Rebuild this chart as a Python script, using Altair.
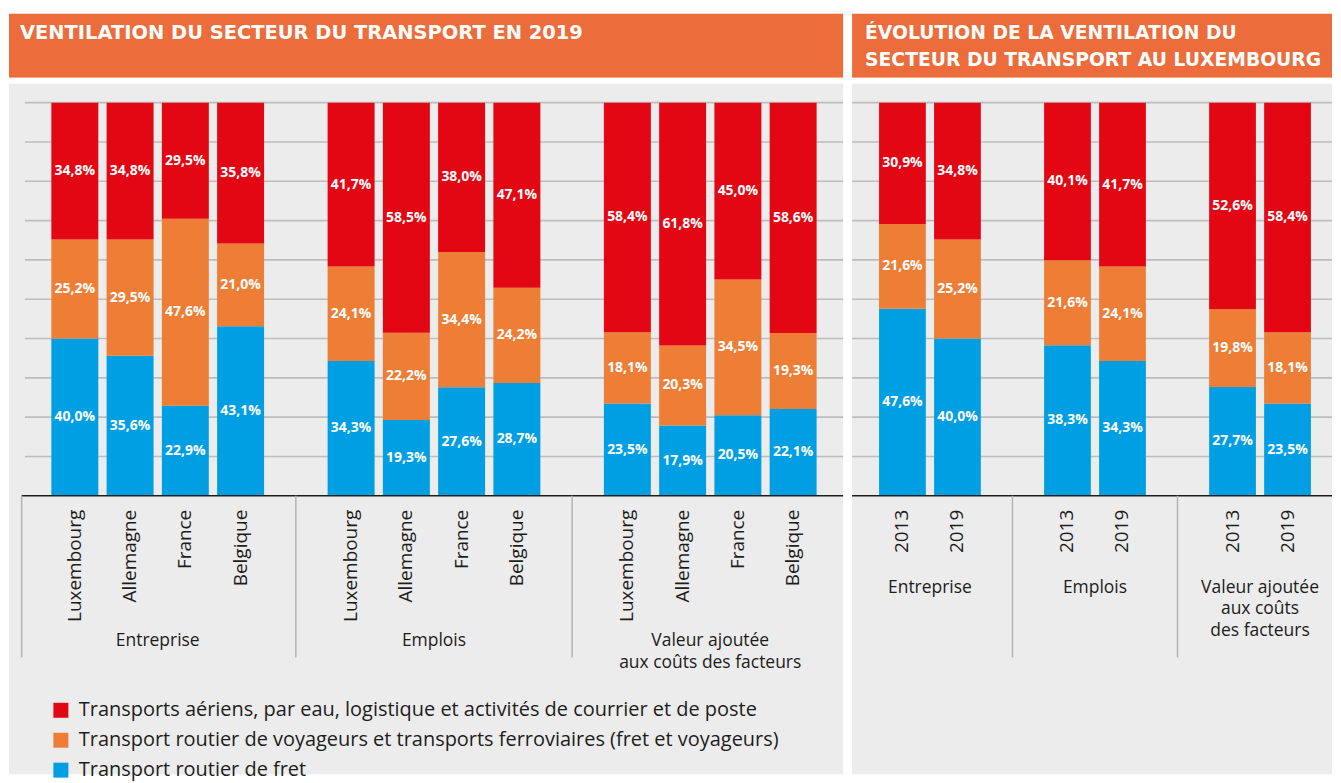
import altair as alt
import pandas as pd

# ---------------- data ----------------
groups = ["Entreprise", "Emplois", "Valeur ajoutée"]
left_group_labels = ["Entreprise", "Emplois", "Valeur ajoutée\naux coûts des facteurs"]
right_group_labels = ["Entreprise", "Emplois", "Valeur ajoutée\naux coûts\ndes facteurs"]
countries = ["Luxembourg", "Allemagne", "France", "Belgique"]
years = ["2013", "2019"]
series = [
    "Transports aériens, par eau, logistique et activités de courrier et de poste",
    "Transport routier de voyageurs et transports ferroviaires (fret et voyageurs)",
    "Transport routier de fret",
]
series_colors = ["#e30613", "#ee7d35", "#009fe3"]

# left panel: 3 groups x 4 countries
left_fret = [40.0, 35.6, 22.9, 43.1, 34.3, 19.3, 27.6, 28.7, 23.5, 17.9, 20.5, 22.1]
left_voy = [25.2, 29.5, 47.6, 21.0, 24.1, 22.2, 34.4, 24.2, 18.1, 20.3, 34.5, 19.3]
left_air = [34.8, 34.8, 29.5, 35.8, 41.7, 58.5, 38.0, 47.1, 58.4, 61.8, 45.0, 58.6]

# right panel: 3 groups x 2 years
right_fret = [47.6, 40.0, 38.3, 34.3, 27.7, 23.5]
right_voy = [21.6, 25.2, 21.6, 24.1, 19.8, 18.1]
right_air = [30.9, 34.8, 40.1, 41.7, 52.6, 58.4]

grid_values = [10, 20, 30, 40, 50, 60, 70, 80, 90, 100]

left_title = ["VENTILATION DU SECTEUR DU TRANSPORT EN 2019"]
right_title = ["ÉVOLUTION DE LA VENTILATION DU", "SECTEUR DU TRANSPORT AU LUXEMBOURG"]

# ---------------- style ----------------
HEADER = "#ec6c3b"
GREY = "#ececec"
TEXT = "#1d1d1b"
VIEW_H = 762

color_scale = alt.Scale(domain=series, range=series_colors)
legend = alt.Legend(
    orient="none", legendX=42, legendY=688, title=None, direction="vertical",
    symbolType="square", symbolSize=225, symbolStrokeWidth=0,
    labelFont="Open Sans", labelFontSize=20, labelColor=TEXT,
    labelOffset=8, rowPadding=10, labelLimit=1000,
)
one = pd.DataFrame({"a": [0]})


def panel(cats, fret, voy, air, group_labels, width, x_range, title_lines,
          title_x, title_size, grid_x0, axis_x0, edge_sep, group_y):
    rows, domain, ticks, anchors, gaps = [], [], [], [], []
    i = 0
    for gi, g in enumerate(groups):
        for c in cats:
            key = f"{g}|{c}"
            domain.append(key)
            ticks.append({"key": key, "label": c})
            rows.append({"key": key, "series": series[2], "order": 0, "value": fret[i]})
            rows.append({"key": key, "series": series[1], "order": 1, "value": voy[i]})
            rows.append({"key": key, "series": series[0], "order": 2, "value": air[i]})
            i += 1
        anchors.append({"anchor": f"{g}|{cats[len(cats) // 2 - 1]}", "label": group_labels[gi]})
        if gi < len(groups) - 1:
            gap = f"gap{gi}"
            domain.append(gap)
            gaps.append({"key": gap})
    df = pd.DataFrame(rows)

    xs = alt.Scale(type="band", domain=domain, range=x_range, paddingInner=0, paddingOuter=0)
    ys = alt.Scale(domain=[0, 100], range=[483, 89], nice=False, zero=False)

    header = alt.Chart(one).mark_rect(color=HEADER).encode(
        x=alt.value(0), x2=alt.value(width), y=alt.value(0), y2=alt.value(64))
    strip = alt.Chart(one).mark_rect(color="white").encode(
        x=alt.value(0), x2=alt.value(width), y=alt.value(64), y2=alt.value(70))
    title = alt.Chart(one).mark_text(
        text=title_lines, font="DejaVu Sans", fontWeight="bold", fontSize=title_size,
        color="white", align="left", baseline="top", lineHeight=26.5, clip=True,
    ).encode(x=alt.value(title_x), y=alt.value(10.5))

    grid = alt.Chart(pd.DataFrame({"v": grid_values})).mark_rule(
        color="#bdbdbd", strokeWidth=1.6).encode(
        y=alt.Y("v:Q", scale=ys, axis=None), x=alt.value(grid_x0), x2=alt.value(width))

    base = alt.Chart(df).transform_stack(
        stack="value", groupby=["key"], as_=["s0", "s1"], offset="normalize",
        sort=[alt.SortField("order", "ascending")],
    ).transform_calculate(
        y0="datum.s0 * 100", y1="datum.s1 * 100",
        mid="(datum.s0 + datum.s1) * 50",
        lbl="replace(format(datum.value, '.1f'), '.', ',') + '%'",
    )
    bars = base.mark_bar(width=alt.RelativeBandSize(0.85)).encode(
        x=alt.X("key:N", scale=xs, axis=None),
        y=alt.Y("y0:Q", scale=ys, axis=None), y2="y1:Q",
        color=alt.Color("series:N", scale=color_scale, legend=legend, sort=series),
    )
    labels = base.mark_text(
        font="Open Sans", fontWeight="bold", fontSize=14, color="white",
        baseline="middle", align="center",
    ).encode(x=alt.X("key:N", scale=xs, axis=None),
             y=alt.Y("mid:Q", scale=ys, axis=None), text="lbl:N")

    axis_line = alt.Chart(one).mark_rule(color="#1d1d1b", strokeWidth=1.6).encode(
        y=alt.YDatum(0, scale=ys), x=alt.value(axis_x0), x2=alt.value(width))

    tick_labels = alt.Chart(pd.DataFrame(ticks)).mark_text(
        angle=270, align="right", baseline="middle", font="Open Sans",
        fontSize=19, color=TEXT,
    ).encode(x=alt.X("key:N", scale=xs, axis=None), y=alt.value(497), text="label:N")

    seps = alt.Chart(pd.DataFrame(gaps)).mark_rule(color="#b3b3b3", strokeWidth=1.5).encode(
        x=alt.X("key:N", scale=xs, axis=None), y=alt.value(483), y2=alt.value(645))

    glabels = alt.Chart(pd.DataFrame(anchors)).transform_calculate(
        lines="split(datum.label, '\\n')"
    ).mark_text(
        align="center", baseline="top", font="Open Sans", fontSize=17.5,
        color=TEXT, lineHeight=22,
    ).encode(x=alt.X("anchor:N", scale=xs, axis=None, bandPosition=1),
             y=alt.value(group_y), text="lines:N")

    layers = [header, strip, grid, bars, labels, axis_line, tick_labels, seps, glabels, title]
    if edge_sep:
        edge = alt.Chart(one).mark_rule(color="#b3b3b3", strokeWidth=1.5).encode(
            x=alt.value(axis_x0), y=alt.value(483), y2=alt.value(645))
        layers.insert(8, edge)
    return alt.layer(*layers).properties(width=width, height=VIEW_H)


left = panel(countries, left_fret, left_voy, left_air, left_group_labels,
             836, [38.3, 813.6], left_title, 11, 19.5, 16, 12.7, True, 620)
right = panel(years, right_fret, right_voy, right_air, right_group_labels,
              481, [22.9, 464.0], right_title, 13, 18.8, 0, 0, False, 566)

chart = alt.hconcat(left, right, spacing=7).resolve_scale(
    x="independent", y="independent", color="shared"
).properties(
    padding={"left": 1, "top": 5, "right": 0, "bottom": 0}, background="white"
).configure_view(fill=GREY, stroke=None)

chart.save("out.html", embed_options={"renderer": "svg", "actions": False})
